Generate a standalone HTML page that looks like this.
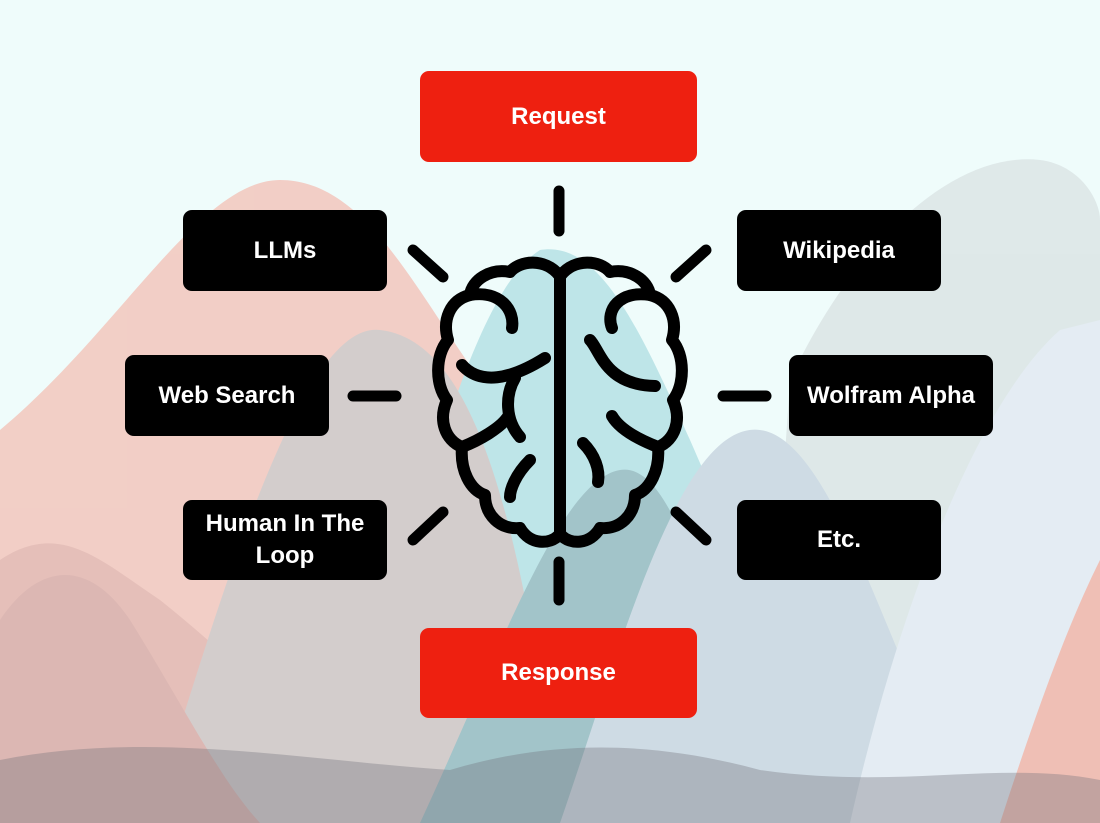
<!DOCTYPE html>
<html><head><meta charset="utf-8"><style>
body{margin:0;width:1100px;height:823px;overflow:hidden;font-family:"Liberation Sans",sans-serif;}
.b{position:absolute;background:#000;color:#fff;border-radius:9px;display:flex;align-items:center;justify-content:center;text-align:center;font-weight:bold;font-size:24px;line-height:32px;}
.r{background:#ee2010;}
</style></head><body>
<svg width="1100" height="823" style="position:absolute;left:0;top:0">
<rect width="1100" height="823" fill="#effcfb"/>
<g opacity="0.6">
<path d="M0,823 L0,430 C120,330 200,180 280,180 C380,180 430,330 520,430 C600,520 620,600 700,823 Z" fill="#f4b0a4"/>
<path d="M760,823 L790,380 C850,250 950,150 1040,160 C1080,165 1100,200 1100,220 L1100,823 Z" fill="#d4dcdd"/>
<path d="M330,823 C400,600 460,300 540,250 C600,240 640,330 690,440 C760,600 800,700 820,823 Z" fill="#9fd6dc"/>
<path d="M0,823 L0,560 C60,520 100,560 160,600 C260,680 330,760 400,823 Z" fill="#e0988e"/>
<path d="M150,823 C220,600 300,320 380,330 C470,340 520,500 560,823 Z" fill="#c2aeae"/>
<path d="M420,823 C500,650 560,480 620,470 C680,460 720,650 760,823 Z" fill="#6f9fa8"/>
<path d="M560,823 C620,650 680,420 760,430 C840,440 900,700 980,823 Z" fill="#b9c6d6"/>
<path d="M850,823 C900,600 980,400 1060,330 L1100,320 L1100,823 Z" fill="#dde2ee"/>
<path d="M1000,823 C1040,700 1070,620 1100,560 L1100,823 Z" fill="#f09888"/>
<path d="M0,823 L0,620 C40,560 90,560 130,620 C180,700 220,780 260,823 Z" fill="#d08a84"/>
</g>
<g opacity="0.35">
<path d="M0,823 L0,760 C150,730 300,760 450,770 C550,740 650,740 760,770 C900,790 1000,760 1100,780 L1100,823 Z" fill="#707078"/>
</g>
<g stroke="#000" stroke-width="11" stroke-linecap="round" fill="none">
<line x1="559" y1="191" x2="559" y2="231"/>
<line x1="559" y1="562" x2="559" y2="600"/>
<line x1="413" y1="250" x2="443" y2="277"/>
<line x1="353" y1="396" x2="396" y2="396"/>
<line x1="413" y1="540" x2="443" y2="512"/>
<line x1="676" y1="277" x2="706" y2="250"/>
<line x1="723" y1="396" x2="766" y2="396"/>
<line x1="676" y1="512" x2="706" y2="540"/>
</g>
<g stroke="#000" stroke-width="12" stroke-linecap="round" stroke-linejoin="round" fill="none">
<path d="M559,275 C545,258 520,260 510,272 C490,268 472,280 470,295 C450,300 442,320 448,340 C435,355 435,385 447,400 C438,420 445,440 462,447 C460,470 470,490 485,495 C485,515 500,530 520,528 C530,545 550,545 559,535"/>
<path d="M561,275 C575,258 600,260 610,272 C630,268 648,280 650,295 C670,300 678,320 672,340 C685,355 685,385 673,400 C682,420 675,440 658,447 C660,470 650,490 635,495 C635,515 620,530 600,528 C590,545 570,545 561,535"/>
<line x1="560" y1="275" x2="560" y2="535"/>
<path d="M470,295 C500,290 515,310 512,328"/>
<path d="M462,365 C480,385 510,380 545,358"/>
<path d="M515,378 C505,395 505,420 520,437"/>
<path d="M462,447 C480,440 500,428 507,418"/>
<path d="M530,460 C515,475 510,490 510,497"/>
<path d="M650,295 C620,290 605,310 612,328"/>
<path d="M590,340 C600,350 605,385 655,386"/>
<path d="M612,416 C620,430 640,440 658,447"/>
<path d="M583,443 C595,455 600,470 598,482"/>
</g>
</svg>
<div class="b r" style="left:420px;top:71px;width:277px;height:91px">Request</div>
<div class="b r" style="left:420px;top:628px;width:277px;height:90px">Response</div>
<div class="b" style="left:183px;top:210px;width:204px;height:81px">LLMs</div>
<div class="b" style="left:125px;top:355px;width:204px;height:81px">Web Search</div>
<div class="b" style="left:183px;top:500px;width:204px;height:80px">Human In The<br>Loop</div>
<div class="b" style="left:737px;top:210px;width:204px;height:81px">Wikipedia</div>
<div class="b" style="left:789px;top:355px;width:204px;height:81px">Wolfram Alpha</div>
<div class="b" style="left:737px;top:500px;width:204px;height:80px">Etc.</div>
</body></html>
